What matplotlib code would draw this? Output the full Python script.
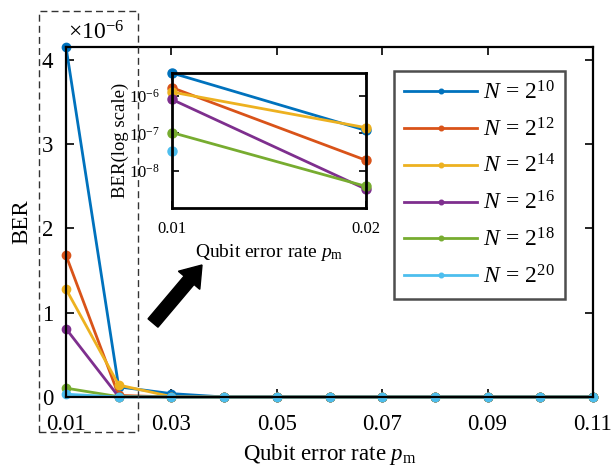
import numpy as np
import matplotlib
matplotlib.use("Agg")
import matplotlib.pyplot as plt
from matplotlib.patches import FancyArrow, Rectangle
from matplotlib.transforms import IdentityTransform
from matplotlib.ticker import FuncFormatter, NullLocator

plt.rcParams['font.family'] = ['Liberation Serif', 'DejaVu Serif']
plt.rcParams['mathtext.fontset'] = 'custom'
plt.rcParams['mathtext.rm'] = 'Liberation Serif'
plt.rcParams['mathtext.it'] = 'Liberation Serif:italic'
plt.rcParams['mathtext.bf'] = 'Liberation Serif:bold'

# ---------------- data ----------------
p_m = [0.01, 0.02, 0.03, 0.04, 0.05, 0.06, 0.07, 0.08, 0.09, 0.10, 0.11]
labels = [r'$N\,=\,2^{10}$', r'$N\,=\,2^{12}$', r'$N\,=\,2^{14}$',
          r'$N\,=\,2^{16}$', r'$N\,=\,2^{18}$', r'$N\,=\,2^{20}$']
ber_n10 = [4.15e-6, 1.2e-7, 4.0e-8, 0, 0, 0, 0, 0, 0, 0, 0]
ber_n12 = [1.68e-6, 1.9e-8, 0, 0, 0, 0, 0, 0, 0, 0, 0]
ber_n14 = [1.28e-6, 1.42e-7, 5.0e-9, 0, 0, 0, 0, 0, 0, 0, 0]
ber_n16 = [8.1e-7, 3.2e-9, 0, 0, 0, 0, 0, 0, 0, 0, 0]
ber_n18 = [1.05e-7, 3.8e-9, 0, 0, 0, 0, 0, 0, 0, 0, 0]
ber_n20 = [3.3e-8, 0, 0, 0, 0, 0, 0, 0, 0, 0, 0]
series = [ber_n10, ber_n12, ber_n14, ber_n16, ber_n18, ber_n20]
colors = ['#0072BD', '#D95319', '#EDB120', '#7E2F8E', '#77AC30', '#4DBEEE']
main_xticks = [0.01, 0.03, 0.05, 0.07, 0.09, 0.11]
main_yticks = [0, 1e-6, 2e-6, 3e-6, 4e-6]
inset_xticks = [0.01, 0.02]
inset_yticks = [1e-8, 1e-7, 1e-6]

W, H = 611, 469
fig = plt.figure(figsize=(W / 100, H / 100), dpi=100)

# ---------------- main axes ----------------
ax = fig.add_axes([66 / W, 1 - 397 / H, (593 - 66) / W, (397 - 47) / H])
handles = []
for ys, c, lab in zip(series, colors, labels):
    h, = ax.plot(p_m, ys, '-o', color=c, lw=2.0, ms=6, label=lab, clip_on=False)
    handles.append(h)
ax.set_xlim(0.01, 0.11)
ax.set_ylim(0, 4.15e-6)
ax.set_xticks(main_xticks)
ax.set_xticklabels(['%.2f' % v for v in main_xticks])
ax.set_yticks(main_yticks)
ax.yaxis.set_major_formatter(FuncFormatter(lambda v, p: '%d' % round(v * 1e6)))
ax.tick_params(direction='in', top=True, right=True, length=6, width=1.2,
               labelsize=16.5)
ax.tick_params(axis='x', pad=12)
ax.tick_params(axis='y', pad=9)
for s in ax.spines.values():
    s.set_linewidth(1.6)
ax.set_xlabel(r'Qubit error rate $p_{\rm m}$', fontsize=16.5, labelpad=5)
ax.set_ylabel('BER', fontsize=16.5)
ax.yaxis.set_label_coords((32 - 66) / 527, 0.5)
fig.text(68 / W, 1 - 33 / H, r'$\times 10^{-6}$', fontsize=17,
         ha='left', va='center')

leg = fig.legend(handles=handles, loc='upper left',
                 bbox_to_anchor=(394 / W, 1 - 71 / H),
                 fontsize=17, frameon=True, fancybox=False,
                 edgecolor='#222222', handlelength=3.1, handletextpad=0.25,
                 labelspacing=0.58, borderpad=0.42, markerscale=0.55,
                 borderaxespad=0)
leg.get_frame().set_linewidth(1.8)

# ---------------- inset ----------------
axi = fig.add_axes([172 / W, 1 - 208 / H, (366 - 172) / W, (208 - 73) / H])
for ys, c in zip(series, colors):
    xs = [x for x, y in zip(p_m[:2], ys[:2]) if y > 0]
    yv = [y for y in ys[:2] if y > 0]
    axi.plot(xs, yv, '-o', color=c, lw=2.0, ms=6.5, clip_on=False)
axi.set_yscale('log')
axi.set_xlim(0.01, 0.02)
axi.set_ylim(1e-9, 4.15e-6)
axi.set_xticks(inset_xticks)
axi.set_xticklabels(['%.2f' % v for v in inset_xticks])
axi.set_yticks(inset_yticks)
axi.yaxis.set_minor_locator(NullLocator())
axi.tick_params(direction='in', top=True, right=True, length=5, width=1.2)
axi.tick_params(axis='x', pad=9, labelsize=12)
axi.tick_params(axis='y', pad=9, labelsize=12)
for s in axi.spines.values():
    s.set_linewidth(2.0)
axi.set_xlabel(r'Qubit error rate $p_{\rm m}$', fontsize=14, labelpad=4)
axi.set_ylabel('BER(log scale)', fontsize=13.5)
axi.yaxis.set_label_coords((129 - 172) / 194, 0.5)

# ---------------- annotations ----------------
fig.add_artist(FancyArrow(153, H - 323, 202 - 153, 323 - 265, width=13,
                          head_width=28, head_length=20,
                          length_includes_head=True, color='black',
                          transform=IdentityTransform()))
fig.add_artist(Rectangle((39, H - 432), 99, 432 - 11, fill=False,
                         linestyle=(0, (5, 3)), linewidth=1.0,
                         edgecolor='#333333', transform=IdentityTransform()))

fig.savefig('out.png', dpi=100)
